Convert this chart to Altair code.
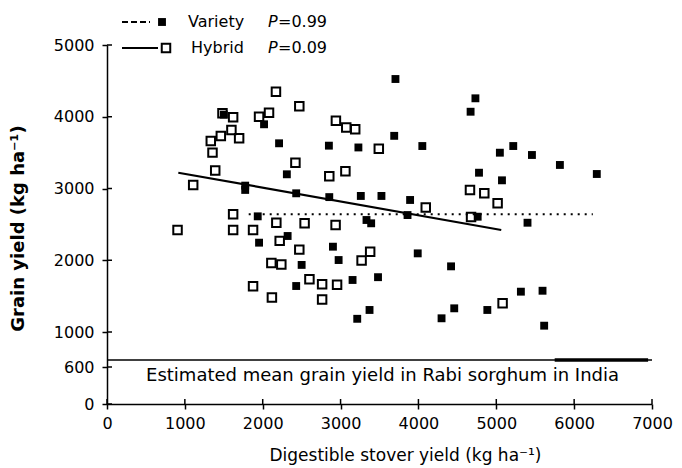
import altair as alt
import pandas as pd

# ---------------- data ----------------
variety_x = [1500, 2017, 2210, 2310, 1775, 1775, 2430, 2850, 3229, 2855, 3260, 3525,
             3705, 3689, 4050, 4732, 4670, 4778, 5046, 5218, 5458, 5817, 6291, 5073,
             3893, 3860, 4761, 5401, 1936, 3333, 3393, 1953, 2320, 2902, 2975, 2500,
             2430, 3154, 3481, 3991, 4419, 3214, 3372, 4297, 4460, 4885, 5316, 5594, 5615]
variety_y = [4030, 3895, 3630, 3198, 3040, 2980, 2933, 3597, 3572, 2880, 2896, 2896,
             4526, 3734, 3592, 4257, 4070, 3220, 3499, 3592, 3467, 3328, 3202, 3114,
             2840, 2630, 2607, 2523, 2612, 2561, 2515, 2245, 2338, 2189, 2003, 1935,
             1641, 1725, 1764, 2096, 1915, 1184, 1307, 1191, 1330, 1307, 1562, 1575, 1088]

hybrid_x = [906, 1107, 1390, 1355, 1333, 1462, 1598, 1697, 1483, 1620, 1953, 2081,
            2170, 2470, 2420, 1620, 1620, 1876, 2175, 2538, 2936, 2218, 2470, 2111,
            2239, 1876, 2118, 2600, 2763, 2955, 2763, 3380, 3270, 2940, 3073, 3188,
            3491, 2855, 3062, 4094, 4676, 4662, 4846, 5017, 5081]
hybrid_y = [2420, 3049, 3250, 3500, 3662, 3732, 3815, 3700, 4048, 3992, 4000, 4057,
            4350, 4145, 3360, 2640, 2422, 2422, 2523, 2515, 2491, 2270, 2148, 1962,
            1940, 1637, 1480, 1735, 1667, 1660, 1453, 2119, 1995, 3945, 3850, 3827,
            3555, 3170, 3240, 2735, 2603, 2979, 2933, 2794, 1400]

hybrid_fit_x = [916, 5064]
hybrid_fit_y = [3220, 2422]
variety_fit_x = [1820, 6240]
variety_fit_y = [2640, 2640]

x_ticks = [0, 1000, 2000, 3000, 4000, 5000, 6000, 7000]
y_ticks = [0, 600, 1000, 2000, 3000, 4000, 5000]

box_x = [0, 7000]
box_y = [680, 680]
box_thick_x = [5750, 6950]
note_text = ["Estimated mean grain yield in Rabi sorghum in India"]
note_x = [3539]
note_y = [450]

legend_names = ["Variety", "Hybrid"]
legend_p = ["=0.99", "=0.09"]

x_title = "Digestible stover yield (kg ha\u207b\u00b9)"
y_title = "Grain yield (kg ha\u207b\u00b9)"

# ---------------- layout ----------------
W, H = 545, 359
FONT = "DejaVu Sans"

xs = alt.Scale(domain=[0, 7000], nice=False, zero=False)
ys = alt.Scale(type="linear", domain=[0, 600, 1000, 5000], range=[H, 322, 287, 0],
               nice=False, zero=False)

x_axis = alt.Axis(values=x_ticks, format="d", title=x_title, grid=False, tickSize=5,
                  labelPadding=6, domainColor="black", domainWidth=1.5, tickColor="black",
                  tickWidth=1.5, labelColor="black", labelFont=FONT, labelFontSize=16,
                  labelFlush=False, titleFont=FONT, titleFontSize=17,
                  titleFontWeight="normal", titleColor="black", titleX=298, titleY=51,
                  titleAnchor="middle", titleBaseline="middle", titleAlign="center")
y_axis = alt.Axis(values=y_ticks, format="d", title=y_title, grid=False, tickSize=5,
                  labelPadding=8, domainColor="black", domainWidth=1.5, tickColor="black",
                  tickWidth=1.5, labelColor="black", labelFont=FONT, labelFontSize=16,
                  labelBaseline="middle", titleFont=FONT, titleFontSize=18,
                  titleFontWeight="bold", titleColor="black", titleAngle=-90, titleX=-89,
                  titleY=183, titleBaseline="middle", titleAlign="center")

X = lambda: alt.X("x:Q", scale=xs, axis=x_axis)
Y = lambda: alt.Y("y:Q", scale=ys, axis=y_axis)

var_df = pd.DataFrame({"x": variety_x, "y": variety_y})
hyb_df = pd.DataFrame({"x": hybrid_x, "y": hybrid_y})
hfit_df = pd.DataFrame({"x": hybrid_fit_x, "y": hybrid_fit_y})
vfit_df = pd.DataFrame({"x": variety_fit_x, "y": variety_fit_y})
box_df = pd.DataFrame({"x": [box_x[0]], "x2": [box_x[1]], "y": [box_y[0]]})
boxt_df = pd.DataFrame({"x": [box_thick_x[0]], "x2": [box_thick_x[1]], "y": [box_y[0]]})
note_df = pd.DataFrame({"x": note_x, "y": note_y, "t": note_text})
ytick_df = pd.DataFrame({"y": y_ticks})
xtick_df = pd.DataFrame({"x": x_ticks})

variety_pts = alt.Chart(var_df).mark_square(size=62, color="black", opacity=1).encode(x=X(), y=Y())
hybrid_pts = alt.Chart(hyb_df).mark_square(size=72, filled=False, color="black", strokeWidth=2,
                                            opacity=1).encode(x=X(), y=Y())
hybrid_line = alt.Chart(hfit_df).mark_line(color="black", strokeWidth=2.2).encode(x=X(), y=Y())
variety_line = alt.Chart(vfit_df).mark_line(color="black", strokeWidth=2,
                                            strokeDash=[2, 5]).encode(x=X(), y=Y())
box_rule = alt.Chart(box_df).mark_rule(color="black", strokeWidth=1.5).encode(
    x=X(), x2="x2:Q", y=Y())
box_thick = alt.Chart(boxt_df).mark_rule(color="black", strokeWidth=3.5).encode(
    x=X(), x2="x2:Q", y=Y())
note = alt.Chart(note_df).mark_text(font=FONT, fontSize=18, color="black", align="center",
                                    baseline="middle").encode(x=X(), y=Y(), text="t:N")
# inner half of the crossing ticks
ytick_in = alt.Chart(ytick_df).mark_rule(color="black", strokeWidth=1.5).encode(
    y=Y(), x=alt.value(0), x2=alt.value(5))
xtick_in = alt.Chart(xtick_df).mark_rule(color="black", strokeWidth=1.5).encode(
    x=X(), y=alt.value(H), y2=alt.value(H - 5))

# ---------------- manual legend ----------------
one = pd.DataFrame({"k": [0]})
leg_var_line = alt.Chart(one).mark_rule(color="black", strokeWidth=2, strokeDash=[6, 3]).encode(
    x=alt.value(15), x2=alt.value(43), y=alt.value(-23))
leg_var_sq = alt.Chart(one).mark_square(size=62, color="black", opacity=1).encode(
    x=alt.value(55), y=alt.value(-23))
leg_hyb_line = alt.Chart(one).mark_rule(color="black", strokeWidth=2).encode(
    x=alt.value(15), x2=alt.value(51), y=alt.value(3))
leg_hyb_sq = alt.Chart(one).mark_square(size=72, filled=False, color="black", strokeWidth=2,
                                        opacity=1).encode(x=alt.value(59), y=alt.value(3))

def ltext(txt, x, y, style="normal"):
    return alt.Chart(pd.DataFrame({"t": [txt]})).mark_text(
        font=FONT, fontSize=16, color="black", align="left", baseline="middle",
        fontStyle=style).encode(x=alt.value(x), y=alt.value(y), text="t:N")

legend = [
    leg_var_line, leg_var_sq, leg_hyb_line, leg_hyb_sq,
    ltext(legend_names[0], 81, -23), ltext("P", 161, -23, "italic"), ltext(legend_p[0], 171, -23),
    ltext(legend_names[1], 84, 3), ltext("P", 161, 3, "italic"), ltext(legend_p[1], 171, 3),
]

chart = alt.layer(
    box_rule, box_thick, note, variety_line, hybrid_line, hybrid_pts, variety_pts,
    ytick_in, xtick_in, *legend
).properties(
    width=W, height=H,
    autosize=alt.AutoSizeParams(type="none"),
    padding={"left": 107, "top": 45, "right": 30, "bottom": 64},
    background="white",
).configure_view(stroke=None)

chart.save("out.html", embed_options={"renderer": "svg", "actions": False})
